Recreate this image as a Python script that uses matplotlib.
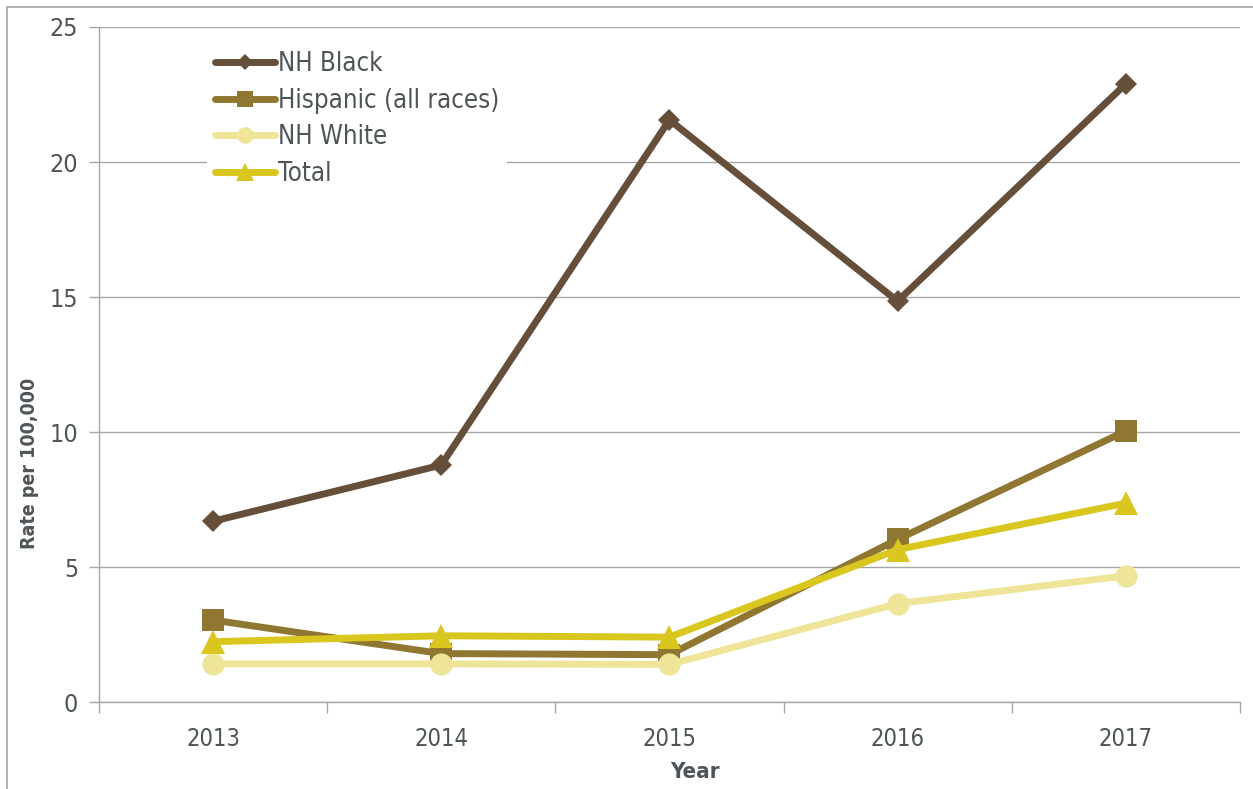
import matplotlib
matplotlib.use("Agg")
import matplotlib.pyplot as plt
from matplotlib.patches import Rectangle
from matplotlib.ticker import FixedLocator, NullFormatter

years = ["2013", "2014", "2015", "2016", "2017"]
nh_black = [6.7, 8.78, 21.56, 14.85, 22.89]
hispanic = [3.04, 1.80, 1.76, 6.03, 10.04]
nh_white = [1.42, 1.42, 1.40, 3.65, 4.68]
total = [2.24, 2.46, 2.41, 5.65, 7.37]

series_names = ["NH Black", "Hispanic (all races)", "NH White", "Total"]
series_values = [nh_black, hispanic, nh_white, total]
colors = ["#654F3A", "#8F7631", "#EEE598", "#D9C61F"]
markers = ["D", "s", "o", "^"]
marker_sizes = [11, 16, 16, 17]

text_color = "#4E5558"
grid_color = "#A6A6A6"

plt.rcParams["font.family"] = ["DejaVu Sans"]
plt.rcParams["font.stretch"] = "condensed"

fig = plt.figure(figsize=(12.53, 7.89), dpi=100)
ax = fig.add_axes([0.079, 0.110, 0.9105, 0.8558])

x = list(range(len(years)))
for name, vals, c, m, ms in zip(series_names, series_values, colors, markers, marker_sizes):
    ax.plot(x, vals, color=c, lw=5, marker=m, markersize=ms,
            markeredgewidth=0, label=name, solid_capstyle="round")

ax.set_xlim(-0.5, len(years) - 0.5)
ax.set_ylim(0, 25)
ax.set_yticks([0, 5, 10, 15, 20, 25])

# category axis: ticks between categories, labels centred
ax.xaxis.set_major_locator(FixedLocator([i - 0.5 for i in range(len(years) + 1)]))
ax.xaxis.set_major_formatter(NullFormatter())
ax.xaxis.set_minor_locator(FixedLocator(x))
ax.set_xticklabels(years, minor=True)
ax.tick_params(axis="x", which="major", length=8, width=1, color=grid_color, direction="out")
ax.tick_params(axis="x", which="minor", length=0, pad=18, labelsize=17, labelcolor=text_color)
ax.tick_params(axis="y", length=7, width=1, color=grid_color, pad=8, labelsize=18,
               labelcolor=text_color)

ax.grid(axis="y", color=grid_color, lw=1)
ax.set_axisbelow(True)
for s in ["top", "right"]:
    ax.spines[s].set_visible(False)
for s in ["left", "bottom"]:
    ax.spines[s].set_color(grid_color)
    ax.spines[s].set_linewidth(1)

ax.set_ylabel("Rate per 100,000", fontsize=14, fontweight="bold", color=text_color)
ax.yaxis.set_label_coords(-0.0605, 0.353)
ax.set_xlabel("Year", fontsize=16, fontweight="bold", color=text_color)
ax.xaxis.set_label_coords(0.522, -0.104)
ax.xaxis.label.set_va("center")
ax.yaxis.label.set_va("center")

leg = ax.legend(loc="upper left", bbox_to_anchor=(0.0947, 0.976), borderaxespad=0,
                frameon=True, facecolor="white", edgecolor="none", framealpha=1,
                fancybox=False, fontsize=18.5, labelcolor=text_color, handlelength=2.35,
                handletextpad=0.12, labelspacing=0.42, borderpad=0.3, markerscale=0.75)

# outer chart border
fig.add_artist(Rectangle((7 / 1253, -0.1), 1.2, 0.1 + (789 - 7) / 789,
                         transform=fig.transFigure, fill=False,
                         edgecolor="#A6A6A6", lw=1.2))

fig.savefig("out.png", dpi=100)
